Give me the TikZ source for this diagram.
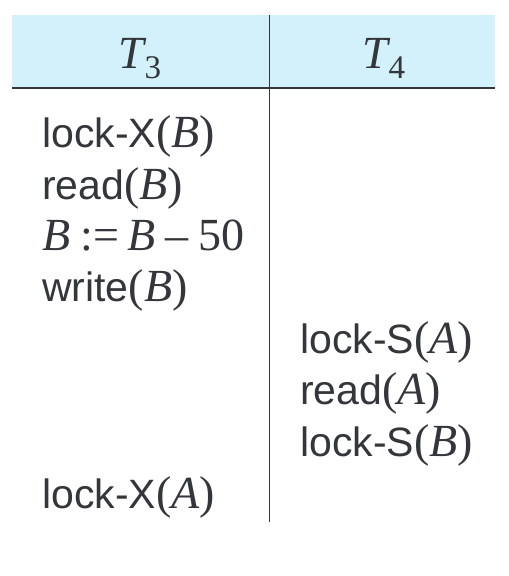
\documentclass[tikz,border=0pt]{standalone}
\usepackage{fontspec}
\setmainfont{Liberation Sans}
\newfontfamily\serf{Liberation Serif}
\newcommand{\mfont}{\serf\fontsize{46}{48}\selectfont}
\newcommand{\oparg}[1]{{\mfont(\itshape #1\/\upshape)}}
\definecolor{hdr}{HTML}{D2F1FA}
\definecolor{ink}{HTML}{33363B}
\begin{document}
\begin{tikzpicture}[x=1pt,y=-1pt,
  cell/.style={anchor=base west,inner sep=0pt,text=ink,font=\fontsize{41}{43}\selectfont},
  head/.style={anchor=base,inner sep=0pt,text=ink,font=\fontsize{46}{48}\serf\itshape},
  rule/.style={draw=ink,line width=1.3pt}]
\useasboundingbox (0,0) rectangle (509,576);
\fill[hdr] (12,15) rectangle (495,88);
\node[head] (h3) at (140,68) {T\raisebox{-10pt}{\fontsize{33}{35}\selectfont\upshape 3}};
\node[head] (h4) at (384,68) {T\raisebox{-10pt}{\fontsize{33}{35}\selectfont\upshape 4}};
\coordinate (ltop) at (12,88);
\coordinate (rtop) at (495,88);
\coordinate (vtop) at (269.5,15);
\coordinate (vbot) at (269.5,522);
\draw[rule] (ltop) -- (rtop);
\draw[rule] (vtop) -- (vbot);
\node[cell] (a1) at (42,147) {lock-X\oparg{B}};
\node[cell] (a2) at (42,199) {read\oparg{B}};
\node[cell] (a3) at (42,250) {{\mfont\itshape B\upshape\hspace{10pt}:=\hspace{8pt}\itshape B\upshape\hspace{10pt}–\hspace{10pt}50}};
\node[cell] (a4) at (42,301) {write\oparg{B}};
\node[cell] (b1) at (300,353) {lock-S\oparg{A}};
\node[cell] (b2) at (300,404) {read\oparg{A}};
\node[cell] (b3) at (300,456) {lock-S\oparg{B}};
\node[cell] (a5) at (42,508) {lock-X\oparg{A}};
\end{tikzpicture}
\end{document}
